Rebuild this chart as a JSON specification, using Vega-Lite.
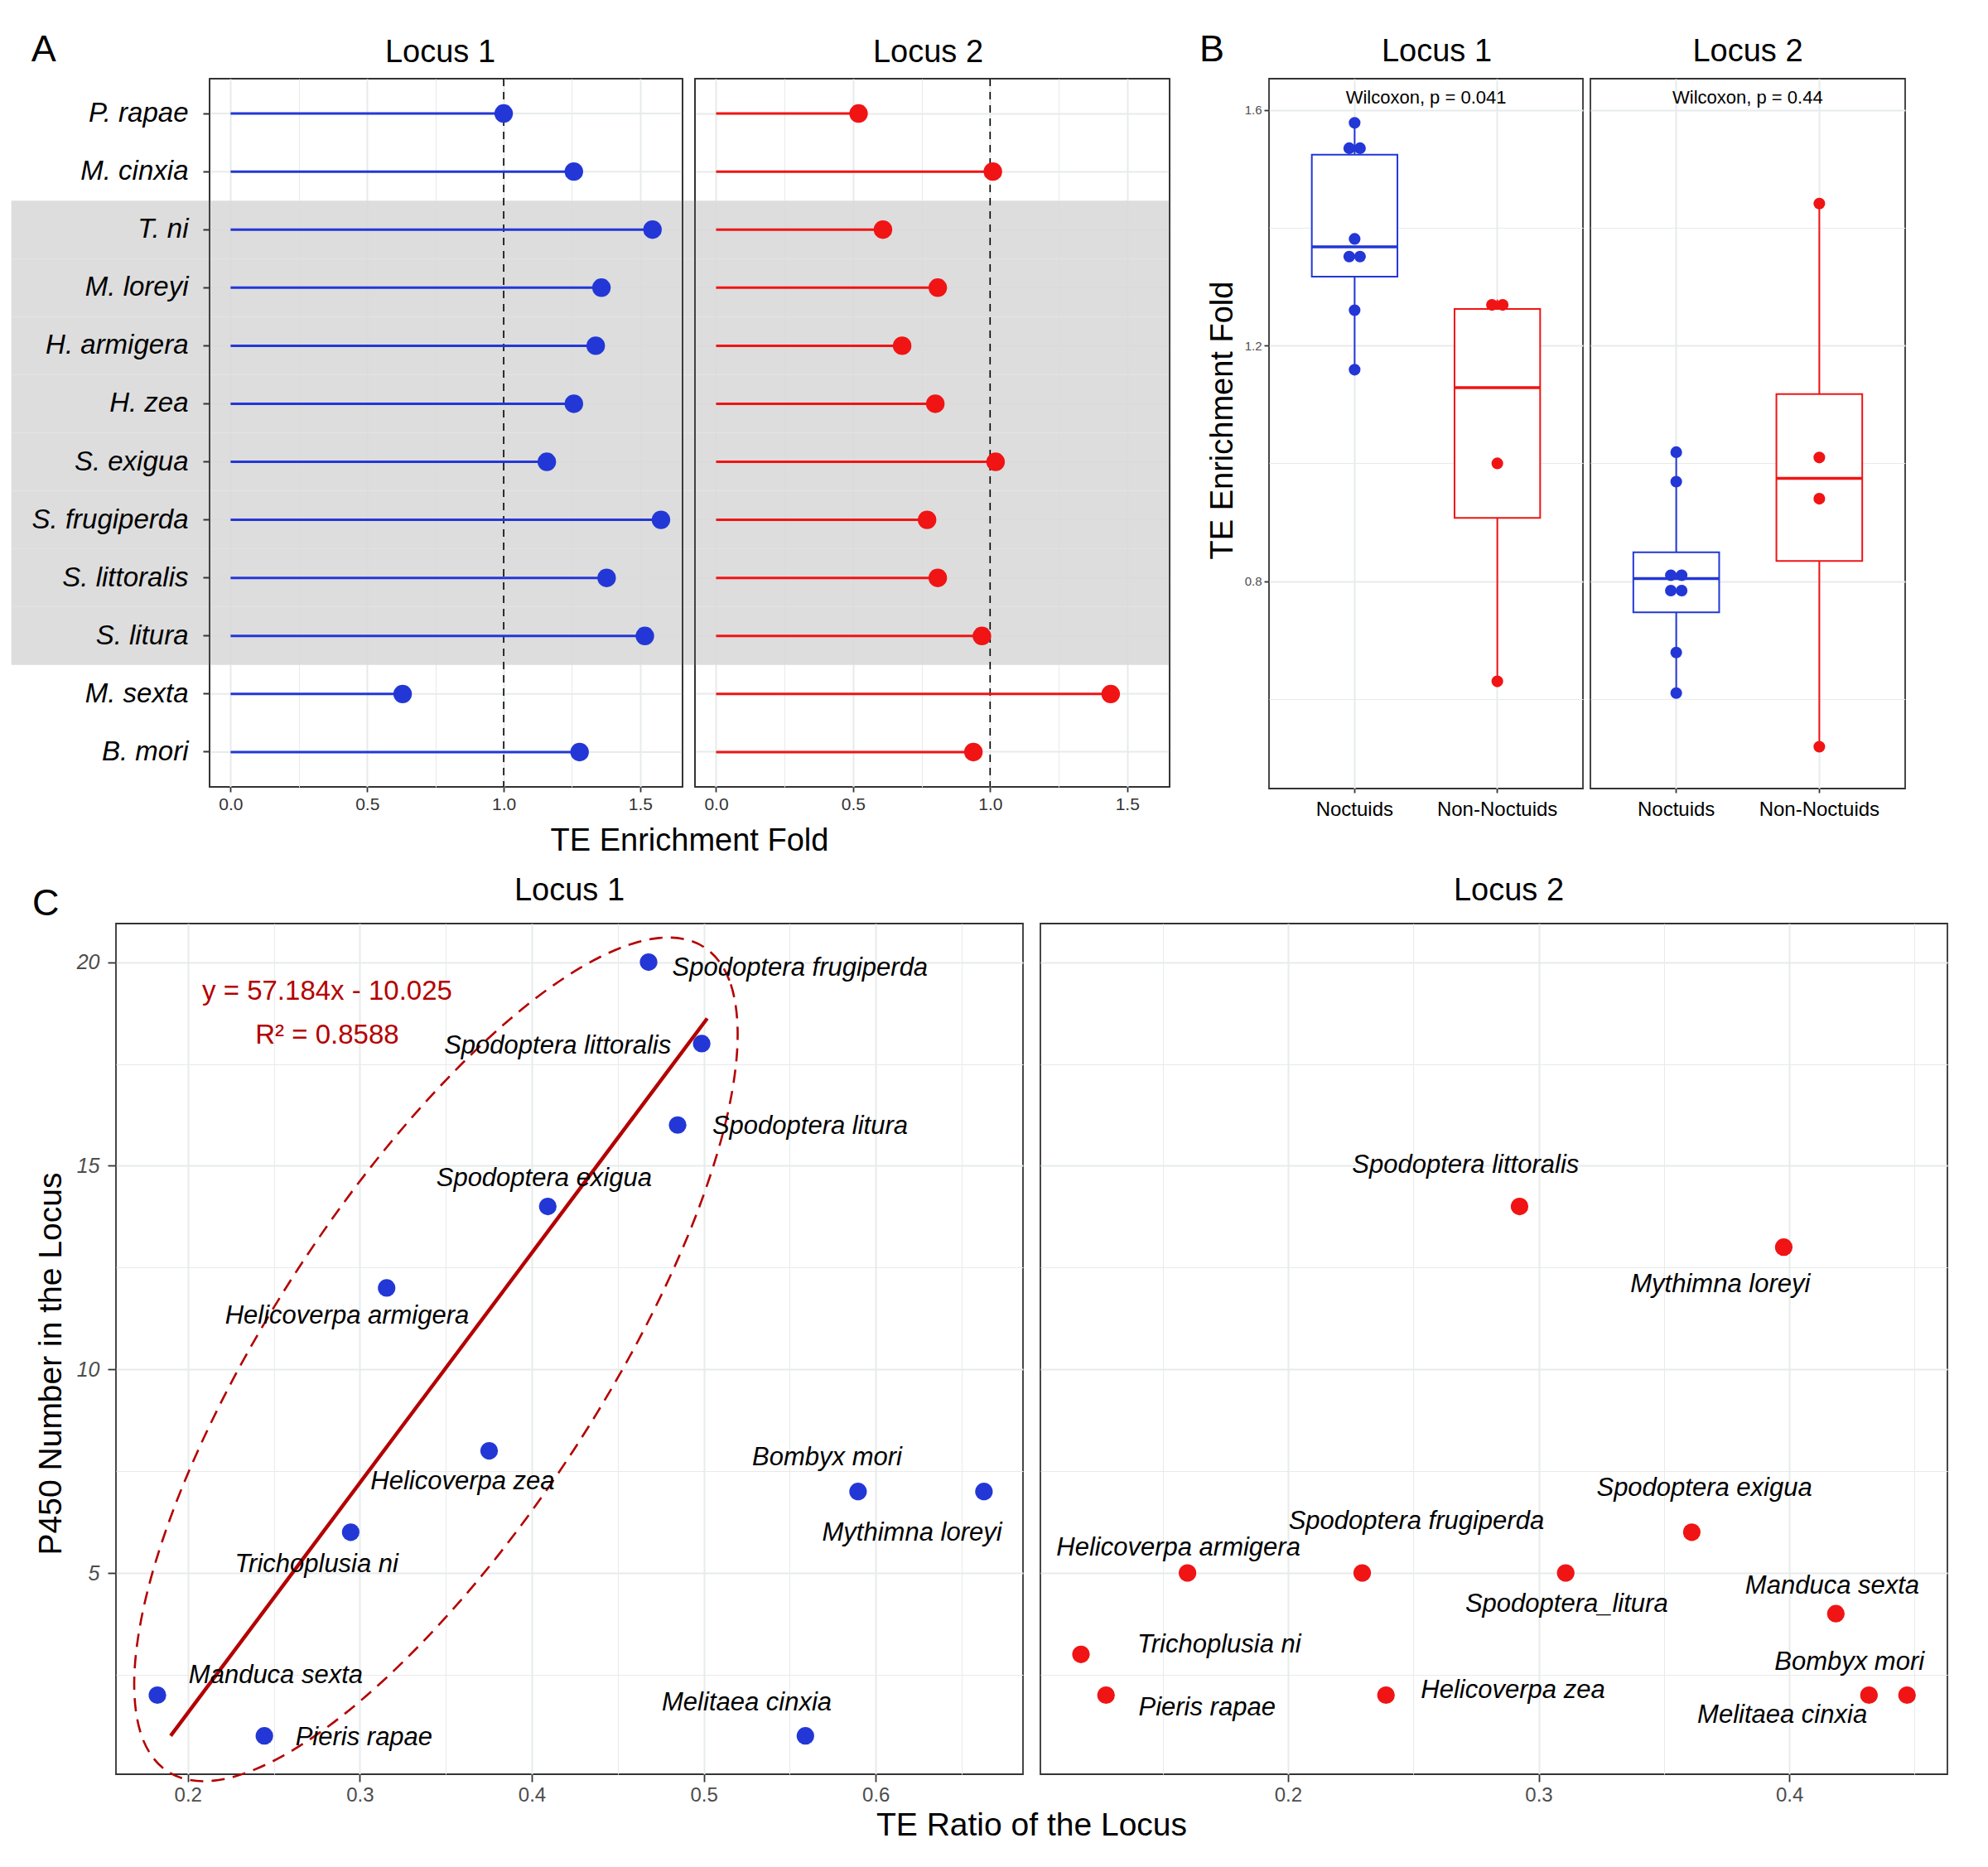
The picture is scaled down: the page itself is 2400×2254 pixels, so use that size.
{
  "$schema": "https://vega.github.io/schema/vega-lite/v6.json",
  "padding": {"left": 11, "top": 37, "right": 10, "bottom": 10},
  "background": "white",
  "config": {
    "font": "Liberation Sans",
    "view": {"stroke": "#333333", "strokeWidth": 1.8},
    "axis": {"gridColor": "#e8ebeb", "domain": false, "labelFont": "Liberation Sans", "titleFont": "Liberation Sans", "titleFontWeight": "normal", "tickColor": "#333333", "tickWidth": 1.8},
    "title": {"font": "Liberation Sans", "fontWeight": "normal", "fontSize": 38, "baseline": "alphabetic", "color": "black", "anchor": "middle"},
    "text": {"font": "Liberation Sans", "color": "black"}
  },
  "datasets": {
    "fold": [
      {"sp": "P. rapae", "locus": "Locus 1", "grp": "Non-Noctuids", "fold": 1.0},
      {"sp": "M. cinxia", "locus": "Locus 1", "grp": "Non-Noctuids", "fold": 1.257},
      {"sp": "T. ni", "locus": "Locus 1", "grp": "Noctuids", "fold": 1.545},
      {"sp": "M. loreyi", "locus": "Locus 1", "grp": "Noctuids", "fold": 1.358},
      {"sp": "H. armigera", "locus": "Locus 1", "grp": "Noctuids", "fold": 1.337},
      {"sp": "H. zea", "locus": "Locus 1", "grp": "Noctuids", "fold": 1.257},
      {"sp": "S. exigua", "locus": "Locus 1", "grp": "Noctuids", "fold": 1.158},
      {"sp": "S. frugiperda", "locus": "Locus 1", "grp": "Noctuids", "fold": 1.576},
      {"sp": "S. littoralis", "locus": "Locus 1", "grp": "Noctuids", "fold": 1.377},
      {"sp": "S. litura", "locus": "Locus 1", "grp": "Noctuids", "fold": 1.517},
      {"sp": "M. sexta", "locus": "Locus 1", "grp": "Non-Noctuids", "fold": 0.63},
      {"sp": "B. mori", "locus": "Locus 1", "grp": "Non-Noctuids", "fold": 1.278},
      {"sp": "P. rapae", "locus": "Locus 2", "grp": "Non-Noctuids", "fold": 0.52},
      {"sp": "M. cinxia", "locus": "Locus 2", "grp": "Non-Noctuids", "fold": 1.01},
      {"sp": "T. ni", "locus": "Locus 2", "grp": "Noctuids", "fold": 0.609},
      {"sp": "M. loreyi", "locus": "Locus 2", "grp": "Noctuids", "fold": 0.809},
      {"sp": "H. armigera", "locus": "Locus 2", "grp": "Noctuids", "fold": 0.679},
      {"sp": "H. zea", "locus": "Locus 2", "grp": "Noctuids", "fold": 0.8},
      {"sp": "S. exigua", "locus": "Locus 2", "grp": "Noctuids", "fold": 1.02},
      {"sp": "S. frugiperda", "locus": "Locus 2", "grp": "Noctuids", "fold": 0.77},
      {"sp": "S. littoralis", "locus": "Locus 2", "grp": "Noctuids", "fold": 0.809},
      {"sp": "S. litura", "locus": "Locus 2", "grp": "Noctuids", "fold": 0.97},
      {"sp": "M. sexta", "locus": "Locus 2", "grp": "Non-Noctuids", "fold": 1.44},
      {"sp": "B. mori", "locus": "Locus 2", "grp": "Non-Noctuids", "fold": 0.939}
    ],
    "dots": [
      {"sp": "S. frugiperda", "locus": "Locus 1", "grp": "Noctuids", "val": 1.578},
      {"sp": "T. ni", "locus": "Locus 1", "grp": "Noctuids", "val": 1.535},
      {"sp": "S. litura", "locus": "Locus 1", "grp": "Noctuids", "val": 1.535},
      {"sp": "S. littoralis", "locus": "Locus 1", "grp": "Noctuids", "val": 1.381},
      {"sp": "M. loreyi", "locus": "Locus 1", "grp": "Noctuids", "val": 1.351},
      {"sp": "H. armigera", "locus": "Locus 1", "grp": "Noctuids", "val": 1.351},
      {"sp": "H. zea", "locus": "Locus 1", "grp": "Noctuids", "val": 1.26},
      {"sp": "S. exigua", "locus": "Locus 1", "grp": "Noctuids", "val": 1.159},
      {"sp": "M. cinxia", "locus": "Locus 1", "grp": "Non-Noctuids", "val": 1.269},
      {"sp": "B. mori", "locus": "Locus 1", "grp": "Non-Noctuids", "val": 1.269},
      {"sp": "P. rapae", "locus": "Locus 1", "grp": "Non-Noctuids", "val": 1.0},
      {"sp": "M. sexta", "locus": "Locus 1", "grp": "Non-Noctuids", "val": 0.63},
      {"sp": "S. exigua", "locus": "Locus 2", "grp": "Noctuids", "val": 1.019},
      {"sp": "S. litura", "locus": "Locus 2", "grp": "Noctuids", "val": 0.969},
      {"sp": "M. loreyi", "locus": "Locus 2", "grp": "Noctuids", "val": 0.81},
      {"sp": "S. littoralis", "locus": "Locus 2", "grp": "Noctuids", "val": 0.81},
      {"sp": "H. zea", "locus": "Locus 2", "grp": "Noctuids", "val": 0.784},
      {"sp": "S. frugiperda", "locus": "Locus 2", "grp": "Noctuids", "val": 0.784},
      {"sp": "H. armigera", "locus": "Locus 2", "grp": "Noctuids", "val": 0.679},
      {"sp": "T. ni", "locus": "Locus 2", "grp": "Noctuids", "val": 0.61},
      {"sp": "M. sexta", "locus": "Locus 2", "grp": "Non-Noctuids", "val": 1.441},
      {"sp": "M. cinxia", "locus": "Locus 2", "grp": "Non-Noctuids", "val": 1.01},
      {"sp": "B. mori", "locus": "Locus 2", "grp": "Non-Noctuids", "val": 0.94},
      {"sp": "P. rapae", "locus": "Locus 2", "grp": "Non-Noctuids", "val": 0.519}
    ],
    "scatter": [
      {"sp": "S. frugiperda", "locus": "Locus 1", "label": "Spodoptera frugiperda", "ratio": 0.4679, "p450": 20},
      {"sp": "S. littoralis", "locus": "Locus 1", "label": "Spodoptera littoralis", "ratio": 0.4988, "p450": 18},
      {"sp": "S. litura", "locus": "Locus 1", "label": "Spodoptera litura", "ratio": 0.4848, "p450": 16},
      {"sp": "S. exigua", "locus": "Locus 1", "label": "Spodoptera exigua", "ratio": 0.4093, "p450": 14},
      {"sp": "H. armigera", "locus": "Locus 1", "label": "Helicoverpa armigera", "ratio": 0.3156, "p450": 12},
      {"sp": "H. zea", "locus": "Locus 1", "label": "Helicoverpa zea", "ratio": 0.3752, "p450": 8},
      {"sp": "T. ni", "locus": "Locus 1", "label": "Trichoplusia ni", "ratio": 0.2947, "p450": 6},
      {"sp": "M. sexta", "locus": "Locus 1", "label": "Manduca sexta", "ratio": 0.1823, "p450": 2},
      {"sp": "P. rapae", "locus": "Locus 1", "label": "Pieris rapae", "ratio": 0.2445, "p450": 1},
      {"sp": "M. cinxia", "locus": "Locus 1", "label": "Melitaea cinxia", "ratio": 0.5591, "p450": 1},
      {"sp": "B. mori", "locus": "Locus 1", "label": "Bombyx mori", "ratio": 0.5897, "p450": 7},
      {"sp": "M. loreyi", "locus": "Locus 1", "label": "Mythimna loreyi", "ratio": 0.6629, "p450": 7},
      {"sp": "S. littoralis", "locus": "Locus 2", "label": "Spodoptera littoralis", "ratio": 0.2924, "p450": 14},
      {"sp": "M. loreyi", "locus": "Locus 2", "label": "Mythimna loreyi", "ratio": 0.3978, "p450": 13},
      {"sp": "S. exigua", "locus": "Locus 2", "label": "Spodoptera exigua", "ratio": 0.3611, "p450": 6},
      {"sp": "H. armigera", "locus": "Locus 2", "label": "Helicoverpa armigera", "ratio": 0.1599, "p450": 5},
      {"sp": "S. frugiperda", "locus": "Locus 2", "label": "Spodoptera frugiperda", "ratio": 0.2296, "p450": 5},
      {"sp": "S. litura", "locus": "Locus 2", "label": "Spodoptera_litura", "ratio": 0.3108, "p450": 5},
      {"sp": "M. sexta", "locus": "Locus 2", "label": "Manduca sexta", "ratio": 0.4186, "p450": 4},
      {"sp": "T. ni", "locus": "Locus 2", "label": "Trichoplusia ni", "ratio": 0.1174, "p450": 3},
      {"sp": "P. rapae", "locus": "Locus 2", "label": "Pieris rapae", "ratio": 0.1274, "p450": 2},
      {"sp": "H. zea", "locus": "Locus 2", "label": "Helicoverpa zea", "ratio": 0.2391, "p450": 2},
      {"sp": "M. cinxia", "locus": "Locus 2", "label": "Melitaea cinxia", "ratio": 0.4318, "p450": 2},
      {"sp": "B. mori", "locus": "Locus 2", "label": "Bombyx mori", "ratio": 0.447, "p450": 2}
    ],
    "ellipse": [
      {"i": 0, "ratio": 0.5002, "p450": 20.368},
      {"i": 1, "ratio": 0.5157, "p450": 19.454},
      {"i": 2, "ratio": 0.5195, "p450": 17.908},
      {"i": 3, "ratio": 0.5114, "p450": 15.845},
      {"i": 4, "ratio": 0.4919, "p450": 13.398},
      {"i": 5, "ratio": 0.4623, "p450": 10.739},
      {"i": 6, "ratio": 0.4247, "p450": 8.042},
      {"i": 7, "ratio": 0.3816, "p450": 5.496},
      {"i": 8, "ratio": 0.3359, "p450": 3.276},
      {"i": 9, "ratio": 0.2909, "p450": 1.531},
      {"i": 10, "ratio": 0.2495, "p450": 0.378},
      {"i": 11, "ratio": 0.2145, "p450": -0.104},
      {"i": 12, "ratio": 0.1883, "p450": 0.124},
      {"i": 13, "ratio": 0.1728, "p450": 1.038},
      {"i": 14, "ratio": 0.169, "p450": 2.583},
      {"i": 15, "ratio": 0.1771, "p450": 4.647},
      {"i": 16, "ratio": 0.1966, "p450": 7.094},
      {"i": 17, "ratio": 0.2262, "p450": 9.752},
      {"i": 18, "ratio": 0.2638, "p450": 12.449},
      {"i": 19, "ratio": 0.3069, "p450": 14.996},
      {"i": 20, "ratio": 0.3526, "p450": 17.216},
      {"i": 21, "ratio": 0.3976, "p450": 18.96},
      {"i": 22, "ratio": 0.4391, "p450": 20.114},
      {"i": 23, "ratio": 0.4741, "p450": 20.595}
    ]
  },
  "vconcat": [
    {
      "hconcat": [
        {"width": 1, "height": 1, "view": {"stroke": null}, "data": {"values": []}, "mark": "rule", "encoding": {}},
        {
          "hconcat": [
            {
              "hconcat": [
                {
                  "width": 571, "height": 855,
                  "title": {"text": "Locus 1", "offset": 11, "dx": -7},
                  "layer": [
                    {"data": {"name": "fold"},
                     "transform": [{"filter": "datum.locus == 'Locus 1'"}],
                     "mark": {"type": "rule", "color": "#e8ebeb", "strokeWidth": 2},
                     "encoding": {
                       "y": {"field": "sp", "type": "nominal", "scale": {"domain": ["P. rapae","M. cinxia","T. ni","M. loreyi","H. armigera","H. zea","S. exigua","S. frugiperda","S. littoralis","S. litura","M. sexta","B. mori"], "paddingInner": 0, "paddingOuter": 0.1},
                             "axis": {"title": null, "labelFontSize": 33, "labelFontStyle": "italic", "labelColor": "black", "labelPadding": 18, "labelLimit": 0, "tickSize": 8, "tickWidth": 2, "grid": false, "zindex": 1}},
                       "x": {"datum": -0.077, "type": "quantitative", "scale": {"domain": [-0.077, 1.655], "nice": false, "zero": false},
                             "axis": {"values": [0, 0.25, 0.5, 0.75, 1, 1.25, 1.5], "format": ".1f", "labelExpr": "datum.value * 2 % 1 == 0 ? datum.label : ''", "labelFontSize": 21, "labelColor": "#333333", "labelPadding": 4, "tickSize": 6, "tickOpacity": {"condition": {"test": "datum.value * 2 % 1 == 0", "value": 1}, "value": 0}, "grid": true, "gridWidth": {"condition": {"test": "datum.value * 2 % 1 == 0", "value": 2}, "value": 1}, "title": "TE Enrichment Fold", "titleFontSize": 38, "titleX": 579, "titleY": 76, "titleBaseline": "alphabetic", "titleAlign": "center", "titleColor": "black"}},
                       "x2": {"datum": 1.655}
                     }},
                    {"data": {"name": "fold"},
                     "transform": [{"filter": "datum.locus == 'Locus 1' && datum.grp == 'Noctuids'"}],
                     "mark": {"type": "bar", "color": "#d9d9d9", "opacity": 0.9},
                     "encoding": {
                       "y": {"field": "sp", "type": "nominal"},
                       "x": {"datum": -0.803, "type": "quantitative"},
                       "x2": {"datum": 1.655}
                     }},
                    {"data": {"values": [{}]},
                     "mark": {"type": "rule", "color": "#333333", "strokeWidth": 1.8},
                     "encoding": {"x": {"datum": -0.077, "type": "quantitative"}}},
                    {"data": {"values": [{}]},
                     "mark": {"type": "rule", "color": "#333333", "strokeWidth": 1.8},
                     "encoding": {"x": {"datum": 1.655, "type": "quantitative"}}},
                    {"data": {"values": [{}]},
                     "mark": {"type": "rule", "color": "black", "strokeWidth": 1.6, "strokeDash": [9, 7]},
                     "encoding": {"x": {"datum": 1, "type": "quantitative"}}},
                    {"data": {"name": "fold"},
                     "transform": [{"filter": "datum.locus == 'Locus 1'"}],
                     "mark": {"type": "rule", "color": "#2337d6", "strokeWidth": 3},
                     "encoding": {"y": {"field": "sp", "type": "nominal"}, "x": {"field": "fold", "type": "quantitative"}, "x2": {"datum": 0}}},
                    {"data": {"name": "fold"},
                     "transform": [{"filter": "datum.locus == 'Locus 1'"}],
                     "mark": {"type": "circle", "size": 500, "color": "#2337d6", "opacity": 1},
                     "encoding": {"y": {"field": "sp", "type": "nominal"}, "x": {"field": "fold", "type": "quantitative"}}}
                  ]
                },
                {
                  "width": 573, "height": 855,
                  "title": {"text": "Locus 2", "offset": 11, "dx": -5},
                  "layer": [
                    {"data": {"name": "fold"},
                     "transform": [{"filter": "datum.locus == 'Locus 2' && datum.grp == 'Noctuids'"}],
                     "mark": {"type": "bar", "color": "#d9d9d9", "opacity": 0.9},
                     "encoding": {
                       "y": {"field": "sp", "type": "nominal", "scale": {"domain": ["P. rapae","M. cinxia","T. ni","M. loreyi","H. armigera","H. zea","S. exigua","S. frugiperda","S. littoralis","S. litura","M. sexta","B. mori"], "paddingInner": 0, "paddingOuter": 0.1},
                             "axis": {"title": null, "labels": false, "ticks": false, "grid": true, "gridWidth": 2}},
                       "x": {"datum": -0.119, "type": "quantitative", "scale": {"domain": [-0.077, 1.655], "nice": false, "zero": false},
                             "axis": {"values": [0, 0.25, 0.5, 0.75, 1, 1.25, 1.5], "format": ".1f", "labelExpr": "datum.value * 2 % 1 == 0 ? datum.label : ''", "labelFontSize": 21, "labelColor": "#333333", "labelPadding": 4, "tickSize": 6, "tickOpacity": {"condition": {"test": "datum.value * 2 % 1 == 0", "value": 1}, "value": 0}, "grid": true, "gridWidth": {"condition": {"test": "datum.value * 2 % 1 == 0", "value": 2}, "value": 1}, "title": null}},
                       "x2": {"datum": 1.655}
                     }},
                    {"data": {"values": [{}]},
                     "mark": {"type": "rule", "color": "#333333", "strokeWidth": 1.8},
                     "encoding": {"x": {"datum": -0.077, "type": "quantitative"}}},
                    {"data": {"values": [{}]},
                     "mark": {"type": "rule", "color": "#333333", "strokeWidth": 1.8},
                     "encoding": {"x": {"datum": 1.655, "type": "quantitative"}}},
                    {"data": {"values": [{}]},
                     "mark": {"type": "rule", "color": "black", "strokeWidth": 1.6, "strokeDash": [9, 7]},
                     "encoding": {"x": {"datum": 1, "type": "quantitative"}}},
                    {"data": {"name": "fold"},
                     "transform": [{"filter": "datum.locus == 'Locus 2'"}],
                     "mark": {"type": "rule", "color": "#f01414", "strokeWidth": 3},
                     "encoding": {"y": {"field": "sp", "type": "nominal"}, "x": {"field": "fold", "type": "quantitative"}, "x2": {"datum": 0}}},
                    {"data": {"name": "fold"},
                     "transform": [{"filter": "datum.locus == 'Locus 2'"}],
                     "mark": {"type": "circle", "size": 500, "color": "#f01414", "opacity": 1},
                     "encoding": {"y": {"field": "sp", "type": "nominal"}, "x": {"field": "fold", "type": "quantitative"}}}
                  ]
                }
              ],
              "spacing": 15,
              "bounds": "flush",
              "title": {"text": "A", "anchor": "start", "fontSize": 45, "offset": -38.5, "dx": 25}
            },
            {
              "hconcat": [
                {
                  "width": 379, "height": 857,
                  "title": {"text": "Locus 1", "offset": 13, "dx": 13},
                  "layer": [
                    {"data": {"name": "fold"},
                     "transform": [{"filter": "datum.locus == 'Locus 1'"},
                       {"aggregate": [{"op": "min", "field": "fold", "as": "lo"}, {"op": "max", "field": "fold", "as": "hi"}, {"op": "q1", "field": "fold", "as": "q1"}, {"op": "q3", "field": "fold", "as": "q3"}, {"op": "median", "field": "fold", "as": "med"}], "groupby": ["grp"]}],
                     "layer": [
                       {"mark": {"type": "rule", "strokeWidth": 2},
                        "encoding": {
                          "x": {"field": "grp", "type": "nominal", "scale": {"domain": ["Noctuids", "Non-Noctuids"], "paddingInner": 0.4, "paddingOuter": 0.3}, "axis": {"title": null, "labelAngle": 0, "labelFontSize": 24, "labelColor": "black", "labelPadding": 8, "tickSize": 5, "grid": true, "gridWidth": 2}},
                          "y": {"field": "lo", "type": "quantitative", "scale": {"domain": [0.448, 1.653], "nice": false, "zero": false},
                                "axis": {"values": [0.6, 0.8, 1, 1.2, 1.4, 1.6], "format": ".1f", "labelExpr": "abs(round(datum.value * 2.5) - datum.value * 2.5) < 0.01 ? datum.label : ''", "labelFontSize": 15, "labelColor": "#4d4d4d", "labelPadding": 3, "tickSize": 6, "tickOpacity": {"condition": {"test": "abs(round(datum.value * 2.5) - datum.value * 2.5) < 0.01", "value": 1}, "value": 0}, "grid": true, "gridWidth": {"condition": {"test": "abs(round(datum.value * 2.5) - datum.value * 2.5) < 0.01", "value": 2}, "value": 1}, "title": "TE Enrichment Fold", "titleFontSize": 38, "titleX": -45, "titleY": 412, "titleBaseline": "alphabetic", "titleAlign": "center", "titleAngle": 270, "titleColor": "black"}},
                          "y2": {"field": "hi"},
                          "color": {"field": "grp", "type": "nominal", "scale": {"domain": ["Noctuids", "Non-Noctuids"], "range": ["#2337d6", "#f01414"]}, "legend": null}
                        }},
                       {"mark": {"type": "bar", "fill": "white", "strokeWidth": 2},
                        "encoding": {
                          "x": {"field": "grp", "type": "nominal"},
                          "y": {"field": "q1", "type": "quantitative"},
                          "y2": {"field": "q3"},
                          "stroke": {"field": "grp", "type": "nominal", "scale": {"domain": ["Noctuids", "Non-Noctuids"], "range": ["#2337d6", "#f01414"]}, "legend": null}
                        }},
                       {"mark": {"type": "bar", "fillOpacity": 0, "strokeWidth": 3.5},
                        "encoding": {
                          "x": {"field": "grp", "type": "nominal"},
                          "y": {"field": "med", "type": "quantitative"},
                          "y2": {"field": "med"},
                          "stroke": {"field": "grp", "type": "nominal", "scale": {"domain": ["Noctuids", "Non-Noctuids"], "range": ["#2337d6", "#f01414"]}, "legend": null}
                        }}
                     ]},
                    {"data": {"name": "dots"},
                     "transform": [{"filter": "datum.locus == 'Locus 1'"},
                       {"window": [{"op": "row_number", "as": "r"}, {"op": "count", "as": "n"}], "groupby": ["grp", "val"], "frame": [null, null]},
                       {"calculate": "datum.r - (datum.n + 1) / 2", "as": "off"}],
                     "encoding": {
                       "x": {"field": "grp", "type": "nominal"},
                       "y": {"field": "val", "type": "quantitative"},
                       "color": {"field": "grp", "type": "nominal", "scale": {"domain": ["Noctuids", "Non-Noctuids"], "range": ["#2337d6", "#f01414"]}, "legend": null}
                     },
                     "layer": [
                       {"transform": [{"filter": "datum.off == 0"}], "mark": {"type": "circle", "size": 200, "opacity": 1}},
                       {"transform": [{"filter": "datum.off < 0"}], "mark": {"type": "circle", "size": 200, "opacity": 1, "xOffset": -6.5}},
                       {"transform": [{"filter": "datum.off > 0"}], "mark": {"type": "circle", "size": 200, "opacity": 1, "xOffset": 6.5}}
                     ]},
                    {"data": {"values": [{}]},
                     "mark": {"type": "text", "text": "Wilcoxon, p = 0.041", "fontSize": 22, "align": "center", "baseline": "middle", "dx": 86.2},
                     "encoding": {"x": {"datum": "Noctuids", "type": "nominal"}, "y": {"datum": 1.6207, "type": "quantitative"}}}
                  ]
                },
                {
                  "width": 380, "height": 857,
                  "title": {"text": "Locus 2", "offset": 13},
                  "layer": [
                    {"data": {"name": "fold"},
                     "transform": [{"filter": "datum.locus == 'Locus 2'"},
                       {"aggregate": [{"op": "min", "field": "fold", "as": "lo"}, {"op": "max", "field": "fold", "as": "hi"}, {"op": "q1", "field": "fold", "as": "q1"}, {"op": "q3", "field": "fold", "as": "q3"}, {"op": "median", "field": "fold", "as": "med"}], "groupby": ["grp"]}],
                     "layer": [
                       {"mark": {"type": "rule", "strokeWidth": 2},
                        "encoding": {
                          "x": {"field": "grp", "type": "nominal", "scale": {"domain": ["Noctuids", "Non-Noctuids"], "paddingInner": 0.4, "paddingOuter": 0.3}, "axis": {"title": null, "labelAngle": 0, "labelFontSize": 24, "labelColor": "black", "labelPadding": 8, "tickSize": 5, "grid": true, "gridWidth": 2}},
                          "y": {"field": "lo", "type": "quantitative", "scale": {"domain": [0.448, 1.653], "nice": false, "zero": false},
                                "axis": {"values": [0.6, 0.8, 1, 1.2, 1.4, 1.6], "labels": false, "ticks": false, "grid": true, "gridWidth": {"condition": {"test": "abs(round(datum.value * 2.5) - datum.value * 2.5) < 0.01", "value": 2}, "value": 1}, "title": null}},
                          "y2": {"field": "hi"},
                          "color": {"field": "grp", "type": "nominal", "scale": {"domain": ["Noctuids", "Non-Noctuids"], "range": ["#2337d6", "#f01414"]}, "legend": null}
                        }},
                       {"mark": {"type": "bar", "fill": "white", "strokeWidth": 2},
                        "encoding": {
                          "x": {"field": "grp", "type": "nominal"},
                          "y": {"field": "q1", "type": "quantitative"},
                          "y2": {"field": "q3"},
                          "stroke": {"field": "grp", "type": "nominal", "scale": {"domain": ["Noctuids", "Non-Noctuids"], "range": ["#2337d6", "#f01414"]}, "legend": null}
                        }},
                       {"mark": {"type": "bar", "fillOpacity": 0, "strokeWidth": 3.5},
                        "encoding": {
                          "x": {"field": "grp", "type": "nominal"},
                          "y": {"field": "med", "type": "quantitative"},
                          "y2": {"field": "med"},
                          "stroke": {"field": "grp", "type": "nominal", "scale": {"domain": ["Noctuids", "Non-Noctuids"], "range": ["#2337d6", "#f01414"]}, "legend": null}
                        }}
                     ]},
                    {"data": {"name": "dots"},
                     "transform": [{"filter": "datum.locus == 'Locus 2'"},
                       {"window": [{"op": "row_number", "as": "r"}, {"op": "count", "as": "n"}], "groupby": ["grp", "val"], "frame": [null, null]},
                       {"calculate": "datum.r - (datum.n + 1) / 2", "as": "off"}],
                     "encoding": {
                       "x": {"field": "grp", "type": "nominal"},
                       "y": {"field": "val", "type": "quantitative"},
                       "color": {"field": "grp", "type": "nominal", "scale": {"domain": ["Noctuids", "Non-Noctuids"], "range": ["#2337d6", "#f01414"]}, "legend": null}
                     },
                     "layer": [
                       {"transform": [{"filter": "datum.off == 0"}], "mark": {"type": "circle", "size": 200, "opacity": 1}},
                       {"transform": [{"filter": "datum.off < 0"}], "mark": {"type": "circle", "size": 200, "opacity": 1, "xOffset": -6.5}},
                       {"transform": [{"filter": "datum.off > 0"}], "mark": {"type": "circle", "size": 200, "opacity": 1, "xOffset": 6.5}}
                     ]},
                    {"data": {"values": [{}]},
                     "mark": {"type": "text", "text": "Wilcoxon, p = 0.44", "fontSize": 22, "align": "center", "baseline": "middle", "dx": 86.2},
                     "encoding": {"x": {"datum": "Noctuids", "type": "nominal"}, "y": {"datum": 1.6207, "type": "quantitative"}}}
                  ]
                }
              ],
              "spacing": 9,
              "bounds": "flush",
              "title": {"text": "B", "anchor": "start", "fontSize": 45, "offset": -39.5, "dx": -8}
            }
          ],
          "spacing": 34
        }
      ],
      "spacing": 0
    },
    {
      "hconcat": [
        {"width": 1, "height": 1, "view": {"stroke": null}, "data": {"values": []}, "mark": "rule", "encoding": {}},
        {
          "hconcat": [
            {
              "width": 1095, "height": 1027,
              "title": {"text": "Locus 1", "offset": 20.5},
              "layer": [
                {"data": {"name": "ellipse"},
                 "mark": {"type": "line", "interpolate": "cardinal-closed", "strokeDash": [16, 10], "color": "#b40000", "strokeWidth": 2.6},
                 "encoding": {
                   "x": {"field": "ratio", "type": "quantitative", "scale": {"domain": [0.1582, 0.6856], "nice": false, "zero": false},
                         "axis": {"values": [0.2, 0.25, 0.3, 0.35, 0.4, 0.45, 0.5, 0.55, 0.6, 0.65], "format": ".1f", "labelExpr": "abs(round(datum.value * 10) - datum.value * 10) < 0.001 ? datum.label : ''", "labelFontSize": 24, "labelColor": "#4d4d4d", "labelPadding": 4, "tickSize": 9, "tickOpacity": {"condition": {"test": "abs(round(datum.value * 10) - datum.value * 10) < 0.001", "value": 1}, "value": 0}, "grid": true, "gridWidth": {"condition": {"test": "abs(round(datum.value * 10) - datum.value * 10) < 0.001", "value": 2}, "value": 1}, "title": "TE Ratio of the Locus", "titleFontSize": 39, "titleX": 1105, "titleY": 73, "titleBaseline": "alphabetic", "titleAlign": "center", "titleColor": "black"}},
                   "y": {"field": "p450", "type": "quantitative", "scale": {"domain": [0.057, 20.948], "nice": false, "zero": false},
                         "axis": {"values": [2.5, 5, 7.5, 10, 12.5, 15, 17.5, 20], "labelExpr": "datum.value % 5 == 0 ? datum.label : ''", "labelFontSize": 25, "labelFontStyle": "italic", "labelColor": "#4d4d4d", "labelPadding": 10, "tickSize": 10, "tickOpacity": {"condition": {"test": "datum.value % 5 == 0", "value": 1}, "value": 0}, "grid": true, "gridWidth": {"condition": {"test": "datum.value % 5 == 0", "value": 2}, "value": 1}, "title": "P450 Number in the Locus", "titleFontSize": 39, "titleX": -67, "titleY": 531, "titleBaseline": "alphabetic", "titleAlign": "center", "titleAngle": 270, "titleColor": "black"}},
                   "order": {"field": "i", "type": "quantitative"}
                 }},
                {"data": {"values": [{}]},
                 "mark": {"type": "rule", "color": "#b40000", "strokeWidth": 4.4},
                 "encoding": {"x": {"datum": 0.19, "type": "quantitative"}, "y": {"datum": 1.0, "type": "quantitative"}, "x2": {"datum": 0.502}, "y2": {"datum": 18.62}}},
                {"data": {"values": [{}]},
                 "mark": {"type": "text", "text": "y = 57.184x - 10.025", "fontSize": 33, "color": "#b40000", "align": "center", "baseline": "alphabetic"},
                 "encoding": {"x": {"datum": 0.281, "type": "quantitative"}, "y": {"datum": 19.07, "type": "quantitative"}}},
                {"data": {"values": [{}]},
                 "mark": {"type": "text", "text": "R² = 0.8588", "fontSize": 33, "color": "#b40000", "align": "center", "baseline": "alphabetic"},
                 "encoding": {"x": {"datum": 0.281, "type": "quantitative"}, "y": {"datum": 18.0, "type": "quantitative"}}},
                {"data": {"name": "scatter"},
                 "transform": [{"filter": "datum.locus == 'Locus 1'"}],
                 "encoding": {"x": {"field": "ratio", "type": "quantitative"}, "y": {"field": "p450", "type": "quantitative"}, "text": {"field": "label"}},
                 "layer": [
                   {"mark": {"type": "circle", "size": 450, "color": "#2337d6", "opacity": 1}},
                   {"transform": [{"filter": "datum.sp == 'S. frugiperda'"}], "mark": {"type": "text", "fontSize": 31, "fontStyle": "italic", "baseline": "middle", "align": "left", "dx": 28.6, "dy": 7.5}},
                   {"transform": [{"filter": "datum.sp == 'S. littoralis'"}], "mark": {"type": "text", "fontSize": 31, "fontStyle": "italic", "baseline": "middle", "align": "right", "dx": -37, "dy": 3.3}},
                   {"transform": [{"filter": "datum.sp == 'S. litura'"}], "mark": {"type": "text", "fontSize": 31, "fontStyle": "italic", "baseline": "middle", "align": "left", "dx": 41.8, "dy": 1.3}},
                   {"transform": [{"filter": "datum.sp == 'S. exigua'"}], "mark": {"type": "text", "fontSize": 31, "fontStyle": "italic", "baseline": "middle", "align": "center", "dx": -4.5, "dy": -33.3}},
                   {"transform": [{"filter": "datum.sp == 'H. armigera'"}], "mark": {"type": "text", "fontSize": 31, "fontStyle": "italic", "baseline": "middle", "align": "center", "dx": -47.8, "dy": 34.3}},
                   {"transform": [{"filter": "datum.sp == 'H. zea'"}], "mark": {"type": "text", "fontSize": 31, "fontStyle": "italic", "baseline": "middle", "align": "center", "dx": -32.1, "dy": 37.5}},
                   {"transform": [{"filter": "datum.sp == 'T. ni'"}], "mark": {"type": "text", "fontSize": 31, "fontStyle": "italic", "baseline": "middle", "align": "center", "dx": -41.2, "dy": 38.8}},
                   {"transform": [{"filter": "datum.sp == 'M. sexta'"}], "mark": {"type": "text", "fontSize": 31, "fontStyle": "italic", "baseline": "middle", "align": "left", "dx": 37.8, "dy": -23.2}},
                   {"transform": [{"filter": "datum.sp == 'P. rapae'"}], "mark": {"type": "text", "fontSize": 31, "fontStyle": "italic", "baseline": "middle", "align": "left", "dx": 37.5, "dy": 2.2}},
                   {"transform": [{"filter": "datum.sp == 'M. cinxia'"}], "mark": {"type": "text", "fontSize": 31, "fontStyle": "italic", "baseline": "middle", "align": "center", "dx": -70.8, "dy": -39.8}},
                   {"transform": [{"filter": "datum.sp == 'B. mori'"}], "mark": {"type": "text", "fontSize": 31, "fontStyle": "italic", "baseline": "middle", "align": "center", "dx": -37.4, "dy": -40.6}},
                   {"transform": [{"filter": "datum.sp == 'M. loreyi'"}], "mark": {"type": "text", "fontSize": 31, "fontStyle": "italic", "baseline": "middle", "align": "center", "dx": -86.8, "dy": 50.7}}
                 ]}
              ]
            },
            {
              "width": 1095, "height": 1027,
              "title": {"text": "Locus 2", "offset": 20.5, "dx": 18},
              "data": {"name": "scatter"},
              "transform": [{"filter": "datum.locus == 'Locus 2'"}],
              "encoding": {
                "x": {"field": "ratio", "type": "quantitative", "scale": {"domain": [0.1012, 0.4631], "nice": false, "zero": false},
                      "axis": {"values": [0.15, 0.2, 0.25, 0.3, 0.35, 0.4, 0.45], "format": ".1f", "labelExpr": "abs(round(datum.value * 10) - datum.value * 10) < 0.001 ? datum.label : ''", "labelFontSize": 24, "labelColor": "#4d4d4d", "labelPadding": 4, "tickSize": 9, "tickOpacity": {"condition": {"test": "abs(round(datum.value * 10) - datum.value * 10) < 0.001", "value": 1}, "value": 0}, "grid": true, "gridWidth": {"condition": {"test": "abs(round(datum.value * 10) - datum.value * 10) < 0.001", "value": 2}, "value": 1}, "title": null}},
                "y": {"field": "p450", "type": "quantitative", "scale": {"domain": [0.057, 20.948], "nice": false, "zero": false},
                      "axis": {"values": [2.5, 5, 7.5, 10, 12.5, 15, 17.5, 20], "labels": false, "ticks": false, "grid": true, "gridWidth": {"condition": {"test": "datum.value % 5 == 0", "value": 2}, "value": 1}, "title": null}},
                "text": {"field": "label"}
              },
              "layer": [
                {"mark": {"type": "circle", "size": 450, "color": "#f01414", "opacity": 1}},
                {"transform": [{"filter": "datum.sp == 'S. littoralis'"}], "mark": {"type": "text", "fontSize": 31, "fontStyle": "italic", "baseline": "middle", "align": "center", "dx": -65.2, "dy": -49.2}},
                {"transform": [{"filter": "datum.sp == 'M. loreyi'"}], "mark": {"type": "text", "fontSize": 31, "fontStyle": "italic", "baseline": "middle", "align": "center", "dx": -76.6, "dy": 45.3}},
                {"transform": [{"filter": "datum.sp == 'S. exigua'"}], "mark": {"type": "text", "fontSize": 31, "fontStyle": "italic", "baseline": "middle", "align": "center", "dx": 15.2, "dy": -53}},
                {"transform": [{"filter": "datum.sp == 'S. frugiperda'"}], "mark": {"type": "text", "fontSize": 31, "fontStyle": "italic", "baseline": "middle", "align": "center", "dx": 65.4, "dy": -61.6}},
                {"transform": [{"filter": "datum.sp == 'H. armigera'"}], "mark": {"type": "text", "fontSize": 31, "fontStyle": "italic", "baseline": "middle", "align": "center", "dx": -11, "dy": -30.4}},
                {"transform": [{"filter": "datum.sp == 'S. litura'"}], "mark": {"type": "text", "fontSize": 31, "fontStyle": "italic", "baseline": "middle", "align": "center", "dx": 1.1, "dy": 38.3}},
                {"transform": [{"filter": "datum.sp == 'M. sexta'"}], "mark": {"type": "text", "fontSize": 31, "fontStyle": "italic", "baseline": "middle", "align": "center", "dx": -4.4, "dy": -32.8}},
                {"transform": [{"filter": "datum.sp == 'T. ni'"}], "mark": {"type": "text", "fontSize": 31, "fontStyle": "italic", "baseline": "middle", "align": "left", "dx": 68.1, "dy": -10.9}},
                {"transform": [{"filter": "datum.sp == 'P. rapae'"}], "mark": {"type": "text", "fontSize": 31, "fontStyle": "italic", "baseline": "middle", "align": "left", "dx": 39.2, "dy": 15.6}},
                {"transform": [{"filter": "datum.sp == 'H. zea'"}], "mark": {"type": "text", "fontSize": 31, "fontStyle": "italic", "baseline": "middle", "align": "left", "dx": 42.1, "dy": -5.5}},
                {"transform": [{"filter": "datum.sp == 'B. mori'"}], "mark": {"type": "text", "fontSize": 31, "fontStyle": "italic", "baseline": "middle", "align": "center", "dx": -69.6, "dy": -39.1}},
                {"transform": [{"filter": "datum.sp == 'M. cinxia'"}], "mark": {"type": "text", "fontSize": 31, "fontStyle": "italic", "baseline": "middle", "align": "center", "dx": -104.7, "dy": 25}}
              ]
            }
          ],
          "spacing": 21,
          "bounds": "flush",
          "title": {"text": "C", "anchor": "start", "fontSize": 45, "offset": -58, "dx": -2}
        }
      ],
      "spacing": 27
    }
  ],
  "spacing": 20
}
